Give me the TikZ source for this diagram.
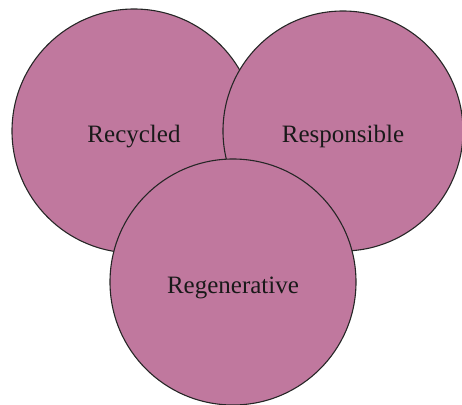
\documentclass[tikz,border=0pt]{standalone}
\usepackage{fontspec}
\setmainfont{Liberation Serif}
\usepackage{tikz}
\definecolor{petal}{RGB}{192,120,158}
\begin{document}
\begin{tikzpicture}[x=1pt,y=1pt]
		\tikzstyle{petal circle}=[circle, draw=black!85, line width=1.1pt, fill=petal, inner sep=0pt, text height=22pt, text depth=0pt, font=\fontsize{25}{30}\selectfont, text=black!90]
		\useasboundingbox (0,0) rectangle (462,-404);
		\node [petal circle, minimum size=244pt] (recycled) at (134,-131) {Recycled};
		\node [petal circle, minimum size=240pt] (responsible) at (343,-131) {Responsible};
		\node [petal circle, minimum size=246pt] (regenerative) at (233,-282) {Regenerative};
	\end{tikzpicture}
\end{document}
